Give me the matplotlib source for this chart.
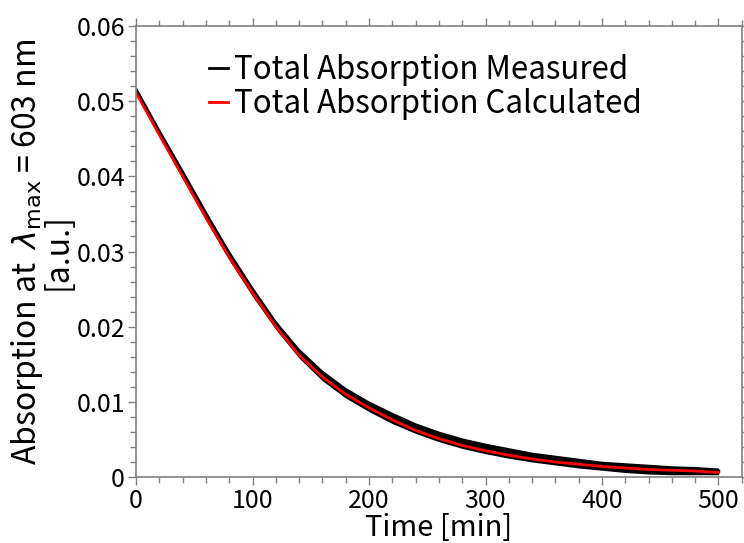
import numpy as np
import matplotlib
matplotlib.use('Agg')
import matplotlib.pyplot as plt
from matplotlib.ticker import MultipleLocator, FuncFormatter

plt.rcParams['font.family'] = ['Noto Sans CJK JP', 'DejaVu Sans']

# Время [мин] и значения
t_calc = [0, 20, 40, 60, 80, 100, 120, 140, 160, 180, 200, 220, 240, 260, 280,
          300, 320, 340, 360, 380, 400, 420, 440, 460, 480, 500]
a_calc = [0.0511, 0.0455, 0.0400, 0.0345, 0.0292, 0.0245, 0.0200, 0.0162, 0.0133,
          0.0110, 0.0092, 0.0076, 0.0062, 0.0051, 0.0042, 0.0035, 0.0029, 0.0024,
          0.0020, 0.0017, 0.0014, 0.0012, 0.0010, 0.0009, 0.0008, 0.0006]

# измеренная кривая (шумная полоса): верхняя и нижняя граница
t_meas = [0, 20, 40, 60, 80, 100, 120, 140, 160, 180, 200, 220, 240, 260, 280,
          300, 320, 340, 360, 380, 400, 420, 440, 460, 480, 500]
a_meas_hi = [0.0519, 0.0463, 0.0409, 0.0354, 0.0301, 0.0253, 0.0208, 0.0171, 0.0142,
             0.0119, 0.0101, 0.0086, 0.0072, 0.0061, 0.0052, 0.0045, 0.0039, 0.0033,
             0.0029, 0.0025, 0.0021, 0.0019, 0.0017, 0.0015, 0.0014, 0.0012]
a_meas_lo = [0.0509, 0.0452, 0.0396, 0.0341, 0.0288, 0.0240, 0.0196, 0.0158, 0.0128,
             0.0105, 0.0087, 0.0071, 0.0058, 0.0047, 0.0038, 0.0031, 0.0025, 0.0020,
             0.0016, 0.0012, 0.0009, 0.0006, 0.0004, 0.0003, 0.0003, 0.0003]
a_meas = [(h + l) / 2 for h, l in zip(a_meas_hi, a_meas_lo)]

fig = plt.figure(figsize=(7.44, 5.43), dpi=100)
ax = fig.add_axes([0.183, 0.1215, 0.814, 0.8306])

ax.fill_between(t_meas, a_meas_lo, a_meas_hi, color='black', lw=0)
ax.plot(t_meas, a_meas, color='black', lw=2.5, label='Total Absorption Measured')
ax.plot(t_calc, a_calc, color='red', lw=2, label='Total Absorption Calculated')

ax.set_xlim(0, 520)
ax.set_ylim(0, 0.06)
ax.xaxis.set_major_locator(MultipleLocator(100))
ax.xaxis.set_minor_locator(MultipleLocator(20))
ax.yaxis.set_major_locator(MultipleLocator(0.01))
ax.yaxis.set_minor_locator(MultipleLocator(0.002))
ax.yaxis.set_major_formatter(FuncFormatter(lambda v, p: '0' if abs(v) < 1e-9 else f'{v:.2f}'))

for s in ax.spines.values():
    s.set_color('#808080')
    s.set_linewidth(1.2)
ax.tick_params(which='both', direction='out', top=True, right=True, color='#808080',
               labelsize=18, pad=2)
ax.tick_params(which='major', length=6, width=1)
ax.tick_params(which='minor', length=4, width=1)

ax.set_xlabel('Time [min]', fontsize=21, labelpad=-1)
ax.set_ylabel('Absorption at  $\\lambda_{\\rm max}$ = 603 nm\n[a.u.]', fontsize=23,
              labelpad=2, linespacing=0.85)

leg = ax.legend(loc='upper left', bbox_to_anchor=(0.1, 0.965), frameon=False, fontsize=22.5,
                handlelength=0.6, handletextpad=0.2, borderaxespad=0, labelspacing=0.05)
for h in leg.legend_handles:
    h.set_linewidth(2)

plt.savefig('out.png', dpi=100)
